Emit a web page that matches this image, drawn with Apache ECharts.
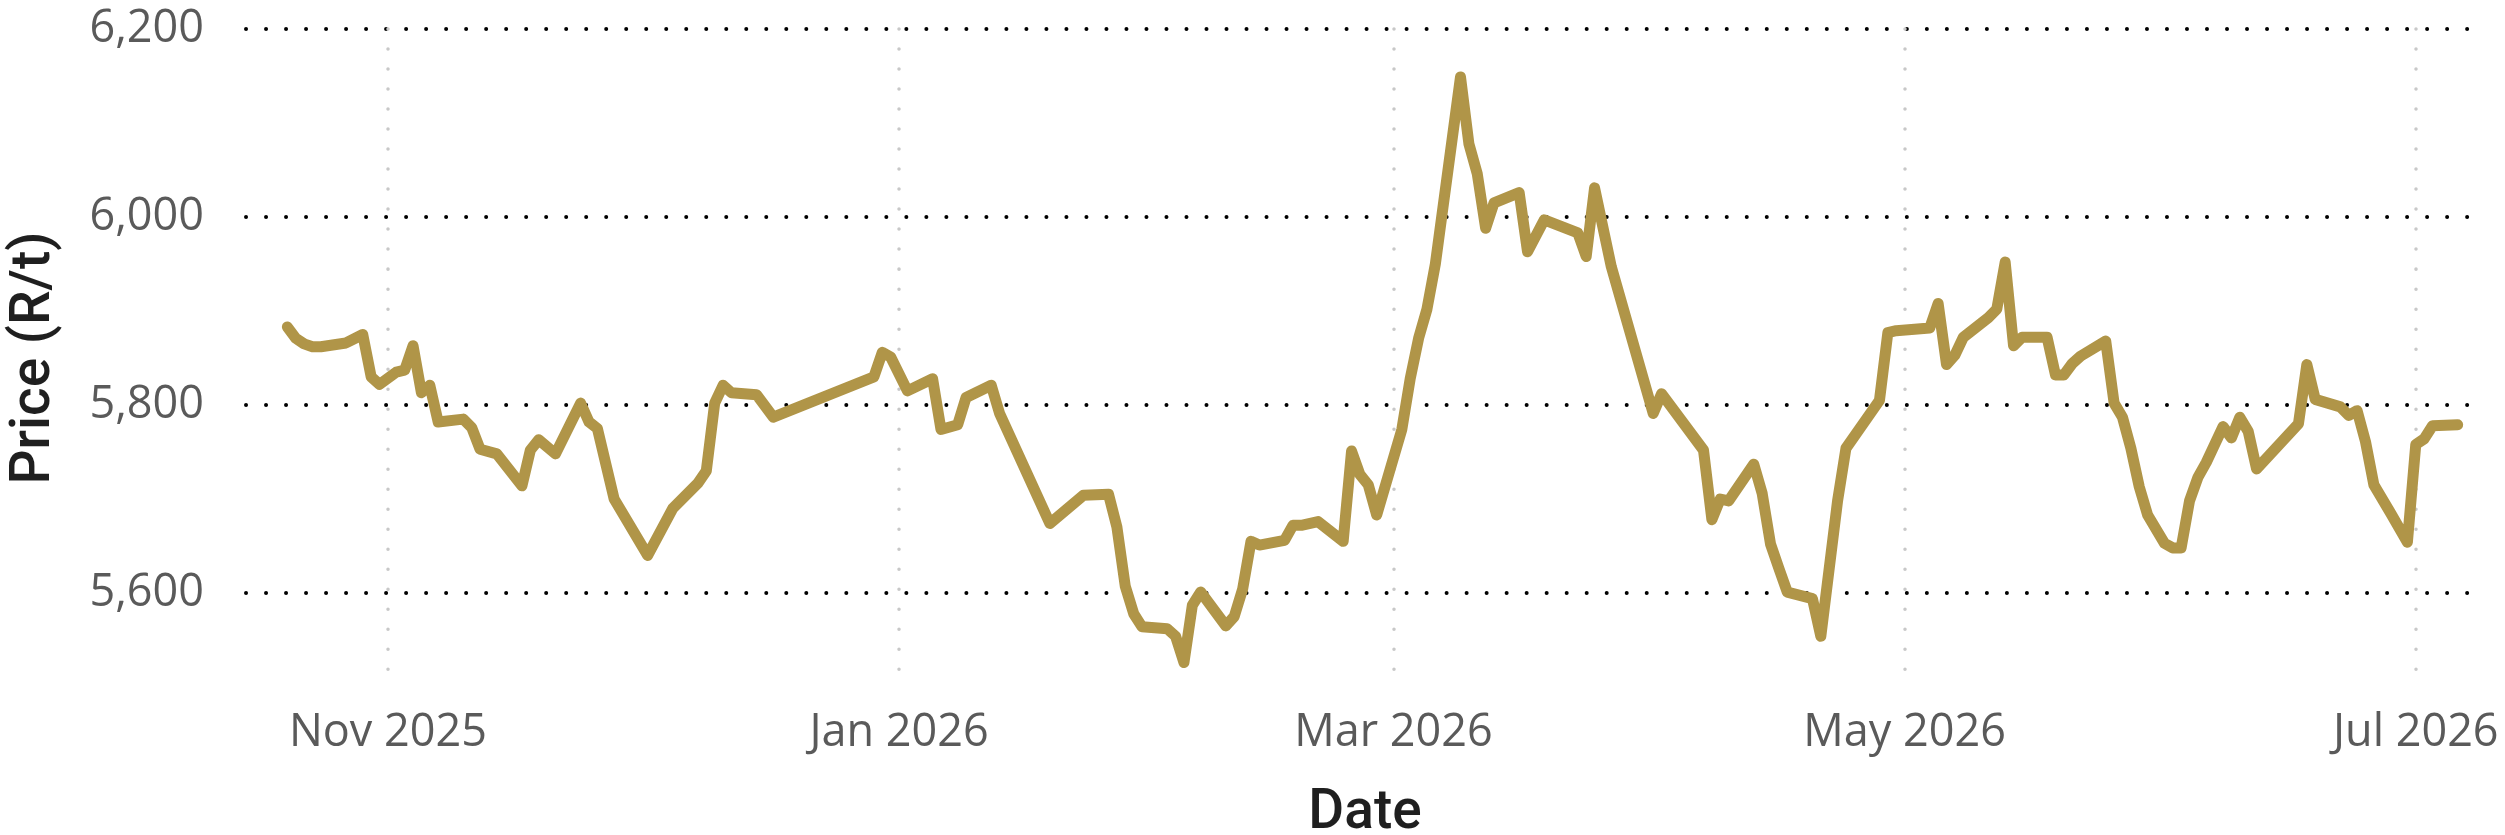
<!DOCTYPE html>
<html>
<head>
<meta charset="utf-8">
<script src="https://cdn.jsdelivr.net/npm/echarts@6/dist/echarts.min.js"></script>
<style>
  html, body { margin: 0; padding: 0; background: #ffffff; }
  #chart { width: 2505px; height: 835px; }
</style>
</head>
<body>
<div id="chart"></div>
<script>
// ---- data ----
const dates = [
  '2025-10-20','2025-10-21','2025-10-22','2025-10-23','2025-10-24','2025-10-27','2025-10-29','2025-10-30','2025-10-31',
  '2025-11-02','2025-11-03','2025-11-04','2025-11-05','2025-11-06','2025-11-07','2025-11-10','2025-11-11','2025-11-12',
  '2025-11-14','2025-11-17','2025-11-18','2025-11-19','2025-11-21','2025-11-24','2025-11-25','2025-11-26','2025-11-28',
  '2025-12-02','2025-12-05','2025-12-08','2025-12-09','2025-12-10','2025-12-11','2025-12-12','2025-12-15','2025-12-17',
  '2025-12-29','2025-12-30','2025-12-31',
  '2026-01-02','2026-01-05','2026-01-06','2026-01-08','2026-01-09','2026-01-12','2026-01-13','2026-01-19','2026-01-23',
  '2026-01-26','2026-01-27','2026-01-28','2026-01-29','2026-01-30',
  '2026-02-02','2026-02-03','2026-02-04','2026-02-05','2026-02-06','2026-02-09','2026-02-10','2026-02-11','2026-02-12',
  '2026-02-13','2026-02-16','2026-02-17','2026-02-18','2026-02-20','2026-02-23','2026-02-24','2026-02-25','2026-02-26',
  '2026-02-27',
  '2026-03-02','2026-03-03','2026-03-04','2026-03-05','2026-03-06','2026-03-09','2026-03-10','2026-03-11','2026-03-12',
  '2026-03-13','2026-03-16','2026-03-17','2026-03-19','2026-03-23','2026-03-24','2026-03-25','2026-03-27',
  '2026-04-01','2026-04-02','2026-04-07','2026-04-08','2026-04-09','2026-04-10','2026-04-13','2026-04-14','2026-04-15',
  '2026-04-16','2026-04-17','2026-04-20','2026-04-21','2026-04-23','2026-04-24','2026-04-28','2026-04-29','2026-04-30',
  '2026-05-04','2026-05-05','2026-05-06','2026-05-07','2026-05-08','2026-05-11','2026-05-12','2026-05-13','2026-05-14',
  '2026-05-15','2026-05-18','2026-05-19','2026-05-20','2026-05-21','2026-05-22','2026-05-25','2026-05-26','2026-05-27',
  '2026-05-28','2026-05-29','2026-05-30',
  '2026-06-01','2026-06-02','2026-06-03','2026-06-04','2026-06-05','2026-06-06','2026-06-08','2026-06-09','2026-06-10',
  '2026-06-11','2026-06-12','2026-06-17','2026-06-18','2026-06-19','2026-06-22','2026-06-23','2026-06-24','2026-06-25',
  '2026-06-26','2026-06-28','2026-06-30',
  '2026-07-01','2026-07-02','2026-07-03','2026-07-06'
];
const prices = [
  5883,5871,5865,5862,5862,5866,5875,5830,5822,
  5835,5837,5863,5813,5821,5782,5785,5776,5753,
  5748,5714,5752,5763,5748,5802,5782,5775,5700,
  5640,5690,5717,5730,5802,5821,5813,5811,5787,
  5830,5856,5851,
  5815,5828,5774,5779,5808,5821,5791,5674,5704,
  5705,5670,5607,5578,5564,
  5562,5554,5526,5587,5601,5565,5575,5604,5655,
  5651,5656,5672,5672,5676,5655,5751,5726,5715,
  5683,
  5774,5828,5871,5902,5950,6149,6078,6046,5988,
  6015,6026,5963,5997,5983,5958,6031,5947,
  5791,5812,5752,5678,5700,5698,5737,5706,5652,
  5626,5601,5594,5554,5698,5754,5805,5877,5879,
  5882,5908,5843,5853,5872,5893,5902,5952,5863,
  5872,5872,5832,5832,5844,5852,5868,5802,5787,
  5754,5713,5683,
  5653,5648,5648,5698,5723,5739,5777,5765,5787,
  5772,5732,5780,5843,5806,5798,5789,5794,5761,
  5715,5685,5654,
  5758,5764,5778,5779
];
const yTickLabels = [5600, 5800, 6000, 6200];
const monthNames = ['Jan','Feb','Mar','Apr','May','Jun','Jul','Aug','Sep','Oct','Nov','Dec'];

const seriesData = dates.map((d, i) => [d, prices[i]]);

const chart = echarts.init(document.getElementById('chart'), null, { renderer: 'canvas' });
const option = {
  backgroundColor: '#ffffff',
  animation: false,
  grid: { left: 243, right: 18, top: 29, bottom: 148, containLabel: false, outerBoundsMode: 'none' },
  xAxis: {
    type: 'time',
    min: new Date(2025, 9, 14, 17).getTime(),
    max: new Date(2026, 6, 9, 12).getTime(),
    splitNumber: 4,
    minInterval: 65 * 86400000,
    maxInterval: 70 * 86400000,
    name: 'Date',
    nameLocation: 'middle',
    nameGap: 100,
    nameTextStyle: { fontFamily: 'Roboto', fontSize: 55, fontWeight: 500, color: '#1f1f1f' },
    axisLine: { show: false },
    axisTick: { show: false },
    axisLabel: {
      fontFamily: 'Open Sans', fontSize: 45, color: '#5a5a5a', margin: 24,
      showMinLabel: false, showMaxLabel: false,
      formatter: function (value) {
        const d = new Date(value);
        return monthNames[d.getMonth()] + ' ' + d.getFullYear();
      }
    },
    splitLine: {
      show: true,
      showMinLine: false,
      showMaxLine: false,
      lineStyle: { color: '#c8c8c8', width: 3.5, type: [0.01, 20], cap: 'round' }
    }
  },
  yAxis: {
    type: 'value',
    min: 5500,
    max: 6200,
    interval: 100,
    name: 'Price (R/t)',
    nameLocation: 'middle',
    nameGap: 180,
    nameRotate: 90,
    nameTextStyle: { fontFamily: 'Roboto', fontSize: 55, fontWeight: 500, color: '#1f1f1f' },
    axisLine: { show: false },
    axisTick: { show: false },
    axisLabel: {
      fontFamily: 'Open Sans', fontSize: 45, color: '#5a5a5a', margin: 39,
      formatter: function (v) {
        return yTickLabels.indexOf(v) >= 0 ? v.toLocaleString('en-US') : '';
      }
    },
    splitLine: {
      show: true,
      lineStyle: { color: ['rgba(0,0,0,0)', '#000000'], width: 4, type: [0.01, 20], dashOffset: 17, cap: 'round' }
    }
  },
  series: [{
    type: 'line',
    data: seriesData,
    showSymbol: false,
    smooth: false,
    lineStyle: { color: '#B09548', width: 11, cap: 'round', join: 'round' },
    itemStyle: { color: '#B09548' }
  }]
};
chart.setOption(option);
</script>
</body>
</html>
